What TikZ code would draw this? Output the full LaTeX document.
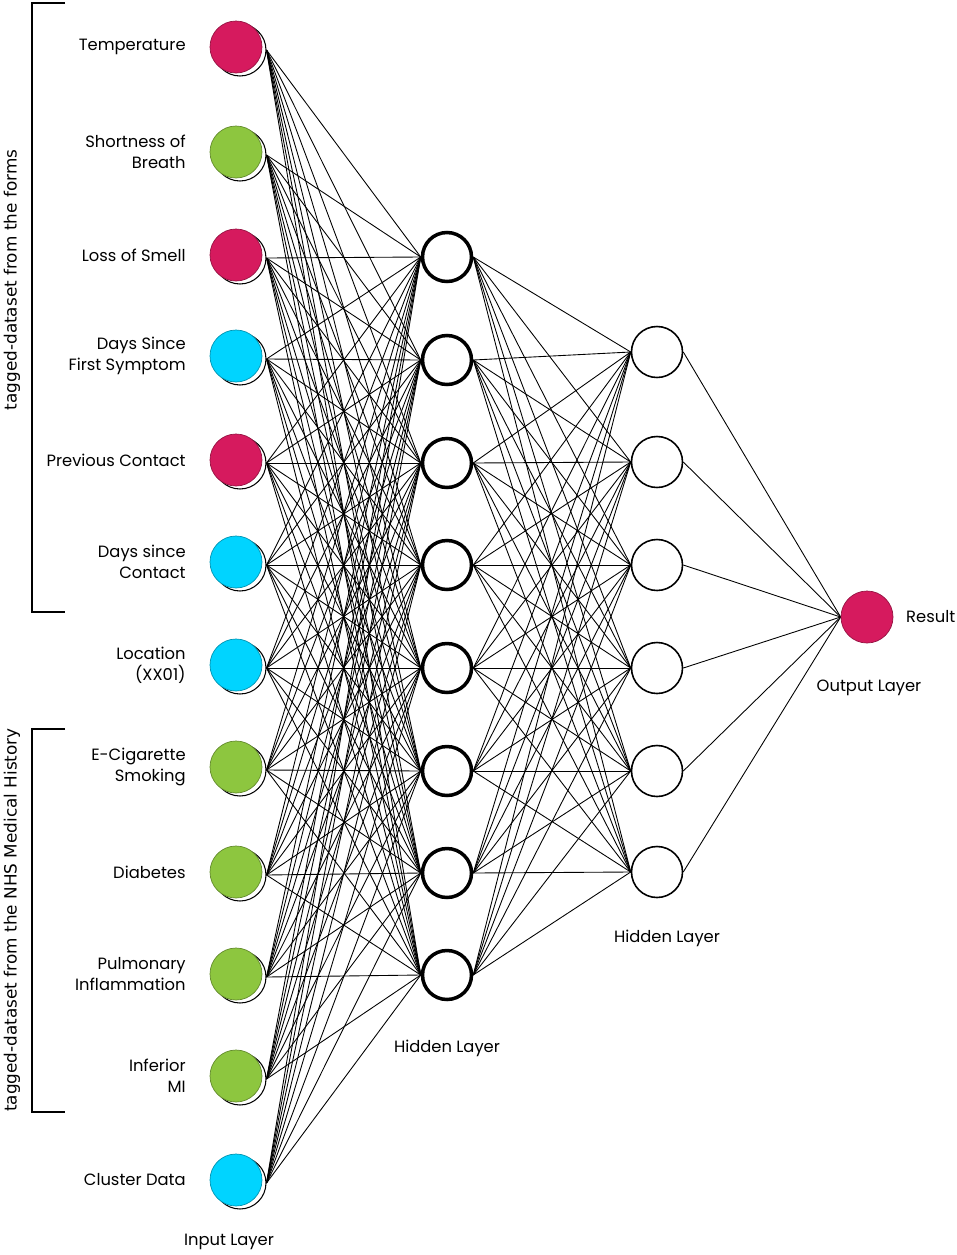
\documentclass[tikz,border=0pt]{standalone}
\usepackage{fontspec}
\setmainfont{Poppins}
\newfontfamily\sidefont{DejaVu Sans}
\usepackage{tikz}
\usetikzlibrary{positioning,calc,backgrounds}
\usepackage{xcolor}
\definecolor{nnmagenta}{RGB}{214, 26, 94}
\definecolor{nngreen}{RGB}{141, 198, 63}
\definecolor{nncyan}{RGB}{0, 212, 255}

\begin{document}
\begin{tikzpicture}[
    x=0.02cm, y=-0.02cm,
    inshadow/.style={circle, draw, line width=0.6pt, fill=white, minimum size=1.04cm, inner sep=0pt},
    infill/.style={circle, draw=#1!70!black, line width=0.4pt, fill=#1, minimum size=1.04cm, inner sep=0pt},
    hidone/.style={circle, draw, line width=2pt, fill=white, minimum size=0.98cm, inner sep=0pt},
    hidtwo/.style={circle, draw, line width=0.9pt, fill=white, minimum size=1.02cm, inner sep=0pt},
    inlabel/.style={anchor=east, align=right, inner sep=0pt, font=\fontsize{9.3}{12}\selectfont},
    laylabel/.style={font=\fontsize{9.3}{12}\selectfont},
    sidelabel/.style={rotate=90, font=\sidefont\fontsize{9.6}{11}\selectfont},
    conn/.style={line width=0.5pt}
]
\useasboundingbox (0,0) rectangle (957,1255);

% Input layer
\foreach \i/\y/\col/\txt in {
    1/47/nnmagenta/Temperature,
    2/152/nngreen/{Shortness of\\Breath},
    3/255/nnmagenta/Loss of Smell,
    4/356/nncyan/{Days Since\\First Symptom},
    5/460/nnmagenta/Previous Contact,
    6/562/nncyan/{Days since\\Contact},
    7/665/nncyan/{Location\\(XX01)},
    8/767/nngreen/{E-Cigarette\\Smoking},
    9/872/nngreen/Diabetes,
    10/974/nngreen/{Pulmonary\\Inflammation},
    11/1076/nngreen/{Inferior\\MI},
    12/1180/nncyan/Cluster Data} {
    \node[inshadow] (s\i) at (240,\y+3) {};
    \node[infill=\col] (in\i) at (236,\y) {};
    \node[inlabel] (lab\i) at (186,\y) {\txt};
}

% Hidden layer 1
\foreach \j/\y in {1/257,2/360,3/463,4/565,5/668,6/771,7/873,8/975}
    \node[hidone] (ha\j) at (447,\y) {};

% Hidden layer 2
\foreach \k/\y in {1/352,2/462,3/565,4/668,5/771,6/872}
    \node[hidtwo] (hb\k) at (657,\y) {};

% Output layer
\node[infill=nnmagenta] (out) at (867,617) {};
\node[laylabel, anchor=west] (res) at (900,617) {Result};

% Connections
\begin{scope}[on background layer]
\foreach \i in {1,...,12}
    \foreach \j in {1,...,8}
        \draw[conn] (s\i.east) -- (ha\j.west);
\foreach \j in {1,...,8}
    \foreach \k in {1,...,6}
        \draw[conn] (ha\j.east) -- (hb\k.west);
\foreach \k in {1,...,6}
    \draw[conn] (hb\k.east) -- (out.west);
\end{scope}

% Layer names
\node[laylabel] (inname) at (229,1242) {Input Layer};
\node[laylabel] (haname) at (447,1048) {Hidden Layer};
\node[laylabel] (hbname) at (667,938) {Hidden Layer};
\node[laylabel] (outname) at (869,688) {Output Layer};

% Brackets
\draw[line width=0.9pt] (65,3) -- (32,3) -- (32,612) -- (65,612);
\draw[line width=0.9pt] (65,729) -- (32,729) -- (32,1112) -- (65,1112);
\node[sidelabel] (formsname) at (12,280) {tagged-dataset from the forms};
\node[sidelabel] (nhsname) at (12,920) {tagged-dataset from the NHS Medical History};

\end{tikzpicture}
\end{document}
